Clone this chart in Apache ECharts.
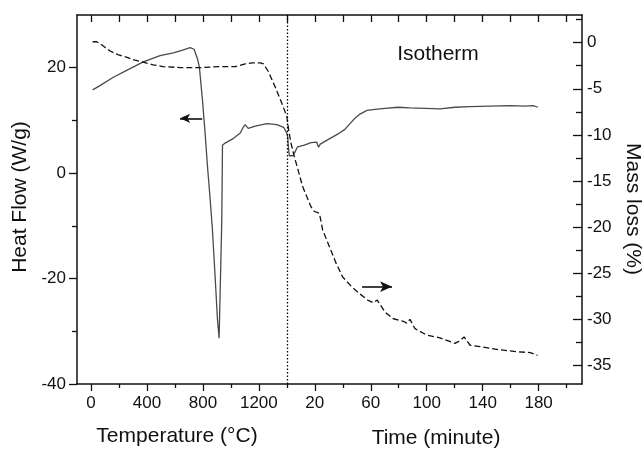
<!DOCTYPE html>
<html>
<head>
<meta charset="utf-8">
<script src="https://cdn.jsdelivr.net/npm/echarts@6/dist/echarts.min.js"></script>
<style>
html,body{margin:0;padding:0;background:#fff;}
#chart{width:643px;height:449px;}
</style>
</head>
<body>
<div id="chart"></div>
<script>
// ---------- data ----------
// Heat flow during heating (temperature °C, W/g)
const heatTempC = [12, 64, 160, 255, 374, 494, 589, 649, 709, 737, 761, 775, 797, 816, 833, 852, 868, 886, 904, 916, 935, 940, 959, 1019, 1067, 1088, 1102, 1124, 1174, 1258, 1329, 1377, 1400];
const heatFlowHeating = [15.8, 16.6, 18.2, 19.5, 21.1, 22.3, 22.8, 23.3, 23.8, 23.5, 21.7, 20.1, 13.8, 7.5, 1.2, -5.0, -10.7, -19.0, -27.7, -31.3, -8.9, 5.3, 5.7, 6.6, 7.6, 8.7, 9.2, 8.5, 8.9, 9.4, 9.2, 8.7, 7.6];
// Heat flow during isotherm (time min, W/g)
const heatTimeMin = [0.6, 1.3, 1.8, 3.0, 4.2, 5.4, 7.7, 12.5, 17.3, 21.3, 22.7, 23.9, 29.1, 37.6, 41.5, 45.1, 48.7, 52.3, 57.3, 63, 70.2, 79.5, 88, 98.8, 109.5, 120.3, 131, 145.3, 159.6, 170.4, 176, 179.5];
const heatFlowIsotherm = [6.9, 4.4, 3.3, 3.6, 3.3, 3.8, 5.0, 5.3, 5.8, 5.9, 4.9, 5.5, 6.3, 7.6, 8.3, 9.4, 10.4, 11.2, 11.9, 12.1, 12.3, 12.5, 12.4, 12.3, 12.2, 12.5, 12.6, 12.7, 12.8, 12.7, 12.8, 12.5];
// Mass loss during heating (temperature °C, %)
const massTempC = [12, 41, 64, 100, 136, 193, 258, 315, 372, 444, 515, 637, 780, 923, 1031, 1102, 1152, 1210, 1233, 1267, 1317, 1365, 1400];
const massLossHeating = [0.1, 0.1, -0.1, -0.5, -0.9, -1.3, -1.6, -1.9, -2.1, -2.4, -2.6, -2.7, -2.7, -2.6, -2.6, -2.3, -2.2, -2.2, -2.3, -3.1, -4.8, -6.6, -8.0];
// Mass loss during isotherm (time min, %)
const massTimeMin = [1.3, 3.0, 5.4, 7.3, 11.3, 17.3, 19.7, 23.3, 25.6, 30.4, 35.2, 39.9, 46, 51.9, 57.8, 61.8, 64.6, 70.2, 75.7, 83.3, 85.7, 88, 91.6, 100, 109.5, 120.2, 123.8, 126.7, 131, 140.5, 152.5, 164.4, 174, 179.2];
const massLossIsotherm = [-9.5, -10.9, -12.4, -13.4, -15.6, -17.8, -18.3, -18.5, -20.3, -22.1, -23.9, -25.4, -26.4, -27.2, -27.9, -28.2, -27.9, -29.2, -29.9, -30.2, -30.4, -30.0, -31.0, -31.7, -32.0, -32.6, -32.3, -31.9, -32.8, -33.0, -33.3, -33.5, -33.6, -33.9];

// Tick labels
const tempTickLabels = [0, 400, 800, 1200];
const tempMinorTicks = [200, 600, 1000, 1400];
const timeTickLabels = [20, 60, 100, 140, 180];
const timeMinorTicks = [40, 80, 120, 160, 200];
const heatTicks = [-40, -20, 0, 20];
const heatMinorTicks = [-30, -10, 10];
const massTicks = [0, -5, -10, -15, -20, -25, -30, -35];
const massMinorTicks = [2.5, -2.5, -7.5, -12.5, -17.5, -22.5, -27.5, -32.5];

// Annotation arrows (data coordinates)
const heatArrow = { fromTemp: 795, toTemp: 637, value: 10.4 };
const massArrow = { fromTime: 53.8, toTime: 75.2, value: -26.45 };
const switchTemp = 1400;   // end of heating / start of isotherm

// ---------- shared horizontal scale: temperature, then 10 °C per minute ----------
const MIN_PER_UNIT = 10;
const tu = t => switchTemp + MIN_PER_UNIT * t;
const fromU = u => (u < switchTemp ? u : Math.round((u - switchTemp) / MIN_PER_UNIT));

const majorU = tempTickLabels.concat(timeTickLabels.map(tu));
const minorU = tempMinorTicks.concat(timeMinorTicks.map(tu));
const allU = majorU.concat(minorU).sort((a, b) => a - b);

const heatData = heatTempC.map((T, i) => [T, heatFlowHeating[i]])
  .concat(heatTimeMin.map((t, i) => [tu(t), heatFlowIsotherm[i]]));
const massData = massTempC.map((T, i) => [T, massLossHeating[i]])
  .concat(massTimeMin.map((t, i) => [tu(t), massLossIsotherm[i]]));

const FONT = "'Liberation Sans', Arial, Helvetica, sans-serif";
const INK = '#111';
const X_MIN = -100, X_MAX = 3510;
const Y1_MIN = -40, Y1_MAX = 30;
const Y2_MIN = -37, Y2_MAX = 3;

const chart = echarts.init(document.getElementById('chart'), null, { renderer: 'canvas' });

const hidden = { show: false };
const lineOff = { show: false, onZero: false };
const axisLineOn = { show: true, onZero: false, lineStyle: { color: INK, width: 1.5 } };
const tickStyle = { color: INK, width: 1.3 };

chart.setOption({
  animation: false,
  backgroundColor: '#fff',
  grid: { left: 77, top: 15, right: 61, bottom: 65, containLabel: false },
  xAxis: [
    { // bottom, major ticks + labels
      type: 'value', position: 'bottom', min: X_MIN, max: X_MAX,
      axisLine: axisLineOn,
      axisTick: { show: true, inside: false, length: 7, customValues: majorU, lineStyle: tickStyle },
      axisLabel: { show: true, customValues: majorU, margin: 11, fontSize: 17, color: INK, fontFamily: FONT,
        formatter: v => String(fromU(v)) },
      splitLine: hidden
    },
    { // bottom, minor ticks
      type: 'value', position: 'bottom', min: X_MIN, max: X_MAX,
      axisLine: lineOff,
      axisTick: { show: true, inside: false, length: 4, customValues: minorU, lineStyle: tickStyle },
      axisLabel: hidden, splitLine: hidden
    },
    { // top mirror
      type: 'value', position: 'top', min: X_MIN, max: X_MAX,
      axisLine: axisLineOn,
      axisTick: { show: true, inside: true, length: 7, customValues: allU, lineStyle: tickStyle },
      axisLabel: hidden, splitLine: hidden
    }
  ],
  yAxis: [
    { // left, heat flow
      type: 'value', position: 'left', min: Y1_MIN, max: Y1_MAX,
      axisLine: axisLineOn,
      axisTick: { show: true, inside: false, length: 8, customValues: heatTicks, lineStyle: tickStyle },
      axisLabel: { show: true, customValues: heatTicks, margin: 11, fontSize: 17, color: INK, fontFamily: FONT },
      splitLine: hidden
    },
    { // left minor
      type: 'value', position: 'left', min: Y1_MIN, max: Y1_MAX,
      axisLine: lineOff,
      axisTick: { show: true, inside: false, length: 5, customValues: heatMinorTicks, lineStyle: tickStyle },
      axisLabel: hidden, splitLine: hidden
    },
    { // right, mass loss
      type: 'value', position: 'right', min: Y2_MIN, max: Y2_MAX,
      axisLine: axisLineOn,
      axisTick: { show: true, inside: true, length: 9, customValues: massTicks, lineStyle: tickStyle },
      axisLabel: { show: true, customValues: massTicks, margin: 5, fontSize: 17, color: INK, fontFamily: FONT },
      splitLine: hidden
    },
    { // right minor
      type: 'value', position: 'right', min: Y2_MIN, max: Y2_MAX,
      axisLine: lineOff,
      axisTick: { show: true, inside: true, length: 6, customValues: massMinorTicks, lineStyle: tickStyle },
      axisLabel: hidden, splitLine: hidden
    }
  ],
  graphic: [
    { type: 'text', x: 20, y: 197, rotation: Math.PI / 2,
      style: { text: 'Heat Flow (W/g)', font: '21px ' + FONT, fill: INK, align: 'center', verticalAlign: 'middle' } },
    { type: 'text', x: 633, y: 209, rotation: -Math.PI / 2,
      style: { text: 'Mass loss (%)', font: '21px ' + FONT, fill: INK, align: 'center', verticalAlign: 'middle' } },
    { type: 'text', x: 177, y: 436,
      style: { text: 'Temperature (°C)', font: '21px ' + FONT, fill: INK, align: 'center', verticalAlign: 'middle' } },
    { type: 'text', x: 436, y: 438,
      style: { text: 'Time (minute)', font: '21px ' + FONT, fill: INK, align: 'center', verticalAlign: 'middle' } },
    { type: 'text', x: 438, y: 54,
      style: { text: 'Isotherm', font: '21px ' + FONT, fill: INK, align: 'center', verticalAlign: 'middle' } }
  ],
  series: [
    {
      name: 'Heat Flow', type: 'line', xAxisIndex: 0, yAxisIndex: 0,
      data: heatData, showSymbol: false, smooth: false,
      lineStyle: { color: '#4a4a4a', width: 1.3 },
      markLine: {
        silent: true, animation: false, symbol: ['none', 'none'],
        label: { show: false },
        lineStyle: { color: '#111', width: 1.6, type: 'solid' },
        data: [
          [
            { coord: [switchTemp, Y1_MIN], symbol: 'none', lineStyle: { type: [1.5, 2], color: '#000', width: 1.3 } },
            { coord: [switchTemp, Y1_MAX], symbol: 'none' }
          ],
          [
            { coord: [heatArrow.fromTemp, heatArrow.value], symbol: 'none' },
            { coord: [heatArrow.toTemp, heatArrow.value], symbol: 'arrow', symbolSize: [7, 10] }
          ]
        ]
      }
    },
    {
      name: 'Mass loss', type: 'line', xAxisIndex: 0, yAxisIndex: 2,
      data: massData, showSymbol: false, smooth: false,
      lineStyle: { color: '#111', width: 1.3, type: [6, 3] },
      markLine: {
        silent: true, animation: false, symbol: ['none', 'none'],
        label: { show: false },
        lineStyle: { color: '#111', width: 1.6, type: 'solid' },
        data: [
          [
            { coord: [tu(massArrow.fromTime), massArrow.value], symbol: 'none' },
            { coord: [tu(massArrow.toTime), massArrow.value], symbol: 'arrow', symbolSize: [8, 12] }
          ]
        ]
      }
    }
  ]
});
</script>
</body>
</html>
